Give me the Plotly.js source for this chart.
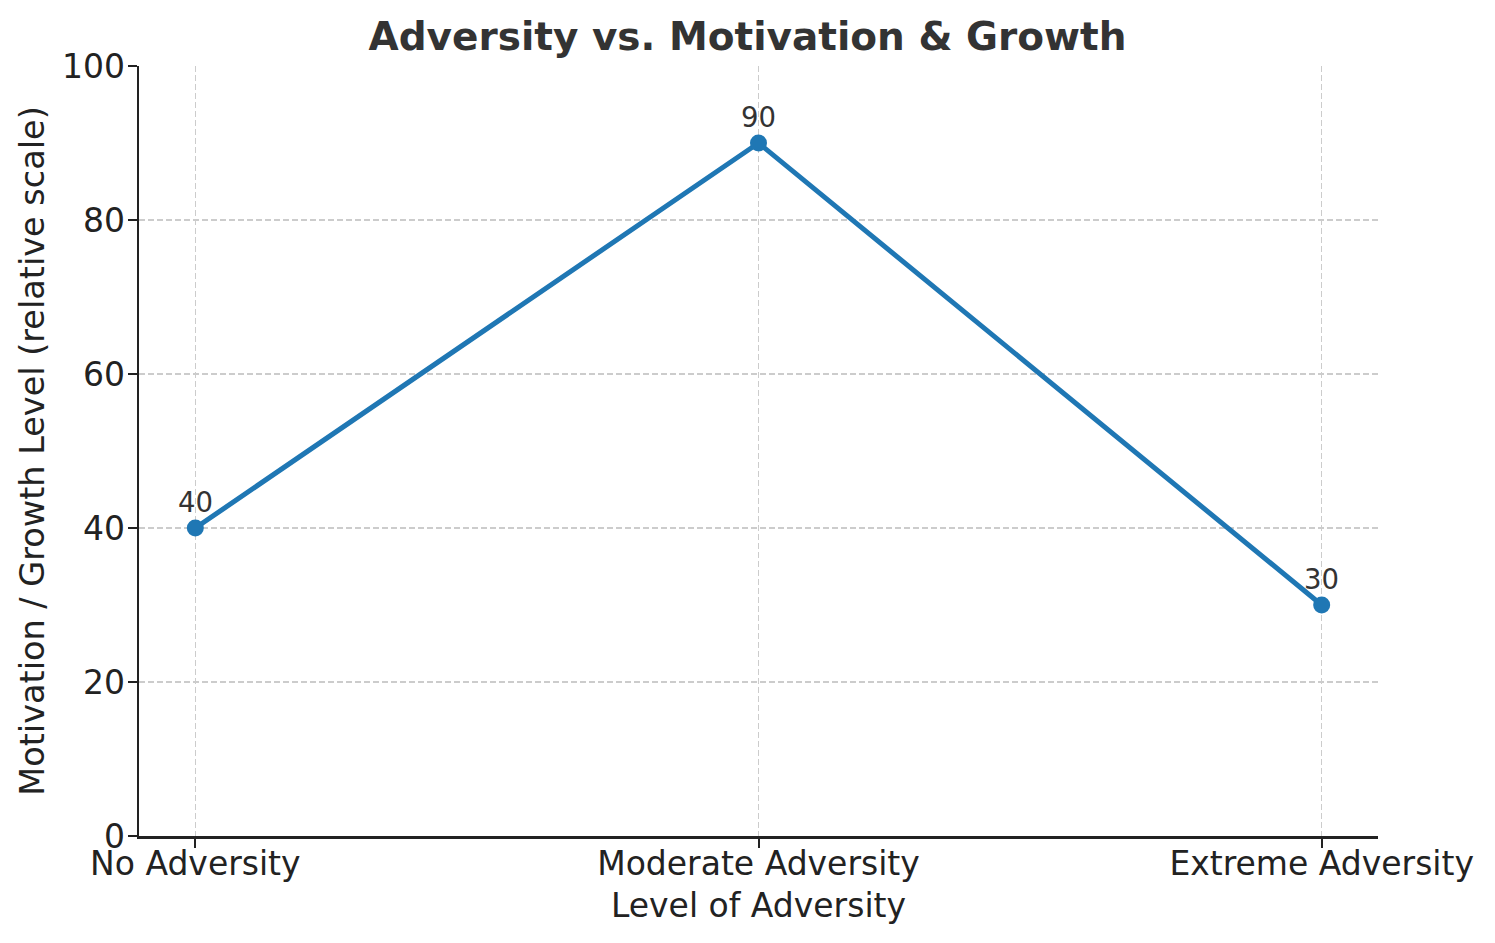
<!DOCTYPE html>
<html>
<head>
<meta charset="utf-8">
<script src="https://cdn.plot.ly/plotly-3.0.1.min.js"></script>
<style>html,body{margin:0;padding:0;background:#fff;}#chart{width:1495px;height:943px;}</style>
</head>
<body>
<div id="chart"></div>
<script>
const categories = ["No Adversity", "Moderate Adversity", "Extreme Adversity"];
const motivation = [40, 90, 30];
const yTicks = [0, 20, 40, 60, 80, 100];

const font = "DejaVu Sans, sans-serif";

const trace = {
  x: categories,
  y: motivation,
  type: "scatter",
  mode: "lines+markers",
  line: {color: "#1f77b4", width: 5},
  marker: {color: "#1f77b4", size: 17},
  hoverinfo: "skip"
};

const annotations = categories.map((c, i) => ({
  x: c, y: motivation[i], xref: "x", yref: "y",
  text: String(motivation[i]),
  showarrow: false, yanchor: "bottom", yshift: 8,
  font: {family: font, size: 27.5, color: "#333333"}
}));

const layout = {
  width: 1495, height: 943,
  margin: {l: 139, r: 117, t: 66, b: 107},
  paper_bgcolor: "#ffffff", plot_bgcolor: "#ffffff",
  showlegend: false,
  title: {text: "<b>Adversity vs. Motivation & Growth</b>", x: 0.5, xanchor: "center", y: 0.961, yanchor: "middle",
          font: {family: font, size: 39, color: "#333333"}},
  xaxis: {
    type: "category", range: [-0.1, 2.1],
    showline: true, linecolor: "#222222", linewidth: 2.5, mirror: false,
    ticks: "outside", ticklen: 9, tickwidth: 2, tickcolor: "#222222",
    ticklabelstandoff: -12,
    showgrid: true, gridcolor: "#cccccc", gridwidth: 1.3, griddash: "6px,3px",
    zeroline: false,
    tickfont: {family: font, size: 33, color: "#222222"},
    title: {text: "Level of Adversity", font: {family: font, size: 33, color: "#222222"}, standoff: 12},
    automargin: false
  },
  yaxis: {
    range: [0, 100], tickvals: yTicks,
    showline: true, linecolor: "#222222", linewidth: 2.5, mirror: false,
    ticks: "outside", ticklen: 9, tickwidth: 2, tickcolor: "#222222",
    ticklabelstandoff: -4,
    showgrid: true, gridcolor: "#cccccc", gridwidth: 1.3, griddash: "6px,3px",
    zeroline: false,
    tickfont: {family: font, size: 33, color: "#222222"},
    title: {text: "Motivation / Growth Level (relative scale)", font: {family: font, size: 33.5, color: "#222222"}, standoff: 7},
    automargin: false
  },
  annotations: annotations
};

Plotly.newPlot("chart", [trace], layout, {displayModeBar: false, staticPlot: true});
</script>
</body>
</html>
